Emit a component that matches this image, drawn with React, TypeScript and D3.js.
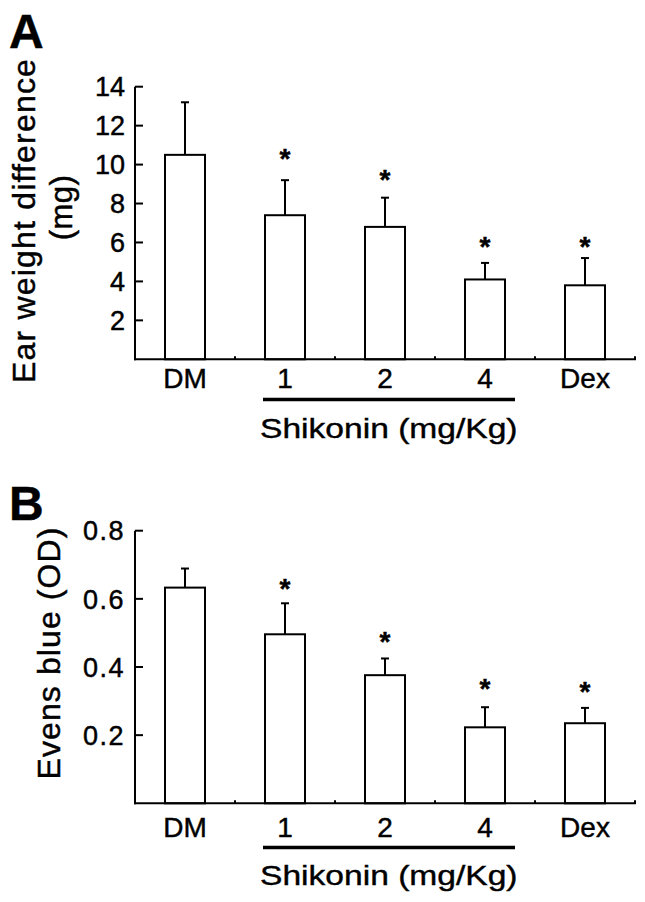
import React from "react";
import * as d3 from "d3";

const categories = ["DM", "1", "2", "4", "Dex"];

// Panel A: ear weight difference (mg)
const earMeans = [10.5, 7.4, 6.8, 4.1, 3.8];
const earSD = [2.7, 1.8, 1.5, 0.85, 1.4];
const earStars = [null, 10.65, 9.58, 6.13, 6.13];
const earTicks = [2, 4, 6, 8, 10, 12, 14];

// Panel B: Evens blue (OD)
const odMeans = [0.633, 0.496, 0.376, 0.223, 0.235];
const odSD = [0.056, 0.091, 0.049, 0.059, 0.045];
const odStars = [null, 0.65, 0.494, 0.357, 0.347];
const odTicks = [0.2, 0.4, 0.6, 0.8];

const FONT = "'Liberation Sans', Arial, Helvetica, sans-serif";
const TXT = { fontFamily: FONT, fill: "#000", stroke: "#000", strokeWidth: 0.45 };

type PanelProps = {
  letter: string;
  letterY: number;
  means: number[];
  sds: number[];
  stars: (number | null)[];
  ticks: number[];
  yMax: number;
  yTop: number;
  yBase: number;
  fmt: (v: number) => string;
  tickSpacing: number;
  labelLines: { text: string; x: number; cy: number; size: number; spacing: number }[];
  catOffset: number;
  bracketY: number;
  groupY: number;
};

function Panel(p: PanelProps) {
  const x = d3
    .scaleBand<string>()
    .domain(categories)
    .range([135, 635])
    .paddingInner(0.6)
    .paddingOuter(0.3);
  const y = d3.scaleLinear().domain([0, p.yMax]).range([p.yBase, p.yTop]);
  const bw = x.bandwidth();
  const step = x.step();
  const boundaries = d3.range(1, categories.length + 1).map((i) => 135 + i * step);
  const sx = 1.2;
  return (
    <g>
      <text x={9} y={p.letterY} {...TXT} fontWeight="bold" fontSize={48}>
        {p.letter}
      </text>
      {p.labelLines.map((l, i) => (
        <text
          key={i}
          transform={`translate(${l.x},${l.cy}) rotate(-90)`}
          textAnchor="middle"
          {...TXT}
          fontSize={l.size}
          letterSpacing={l.spacing}
        >
          {l.text}
        </text>
      ))}
      {/* y axis */}
      <line x1={135} x2={135} y1={p.yBase + 1} y2={y(p.yMax)} stroke="#000" strokeWidth={2} />
      {p.ticks.map((t) => (
        <g key={t}>
          <line x1={135} x2={143} y1={y(t)} y2={y(t)} stroke="#000" strokeWidth={2} />
          <text
            x={125}
            y={y(t)}
            dy="0.36em"
            textAnchor="end"
            {...TXT}
            fontSize={27}
            letterSpacing={p.tickSpacing}
          >
            {p.fmt(t)}
          </text>
        </g>
      ))}
      {/* bars */}
      {categories.map((c, i) => {
        const x0 = x(c)!;
        const cx = x0 + bw / 2;
        const top = y(p.means[i]);
        const et = y(p.means[i] + p.sds[i]);
        const s = p.stars[i];
        return (
          <g key={c}>
            <line x1={cx} x2={cx} y1={top} y2={et} stroke="#000" strokeWidth={2} />
            <line x1={cx - 4} x2={cx + 4} y1={et} y2={et} stroke="#000" strokeWidth={2} />
            <rect
              x={x0}
              y={top}
              width={bw}
              height={p.yBase - top}
              fill="#fff"
              stroke="#000"
              strokeWidth={2}
            />
            {s !== null && (
              <text
                x={cx}
                y={y(s) + 16}
                textAnchor="middle"
                {...TXT}
                fontWeight="bold"
                fontSize={28}
              >
                *
              </text>
            )}
            <text x={cx} y={p.yBase + p.catOffset} textAnchor="middle" {...TXT} fontSize={28}>
              {c}
            </text>
          </g>
        );
      })}
      {/* x axis */}
      <line x1={134} x2={636} y1={p.yBase} y2={p.yBase} stroke="#000" strokeWidth={2} />
      {boundaries.map((b, i) => (
        <line key={i} x1={b} x2={b} y1={p.yBase} y2={p.yBase - 3} stroke="#000" strokeWidth={2} />
      ))}
      {/* group bracket */}
      <line
        x1={x("1")! - 2}
        x2={x("4")! + bw + 10}
        y1={p.bracketY}
        y2={p.bracketY}
        stroke="#000"
        strokeWidth={3.5}
      />
      <text
        transform={`translate(${x("1")! - 5},${p.groupY}) scale(${sx},1)`}
        {...TXT}
        strokeWidth={0.4}
        fontSize={28}
      >
        Shikonin (mg/Kg)
      </text>
    </g>
  );
}

export default function App() {
  return (
    <svg
      width={645}
      height={902}
      style={{ position: "absolute", left: 0, top: 0, background: "#fff" }}
    >
      <rect width={645} height={902} fill="#fff" />
      <Panel
        letter="A"
        letterY={48}
        means={earMeans}
        sds={earSD}
        stars={earStars}
        ticks={earTicks}
        yMax={14}
        yTop={86.7}
        yBase={359.3}
        fmt={(v) => d3.format("d")(v)}
        tickSpacing={0}
        labelLines={[
          { text: "Ear weight difference", x: 35, cy: 220.5, size: 32, spacing: 1.2 },
          { text: "(mg)", x: 72, cy: 207.5, size: 31, spacing: 0.5 },
        ]}
        catOffset={28.7}
        bracketY={399.5}
        groupY={438}
      />
      <Panel
        letter="B"
        letterY={520}
        means={odMeans}
        sds={odSD}
        stars={odStars}
        ticks={odTicks}
        yMax={0.8}
        yTop={530.7}
        yBase={803.3}
        fmt={(v) => d3.format(".1f")(v)}
        tickSpacing={1.5}
        labelLines={[{ text: "Evens blue (OD)", x: 60, cy: 653, size: 32, spacing: 1.1 }]}
        catOffset={33.2}
        bracketY={847.5}
        groupY={885}
      />
    </svg>
  );
}
